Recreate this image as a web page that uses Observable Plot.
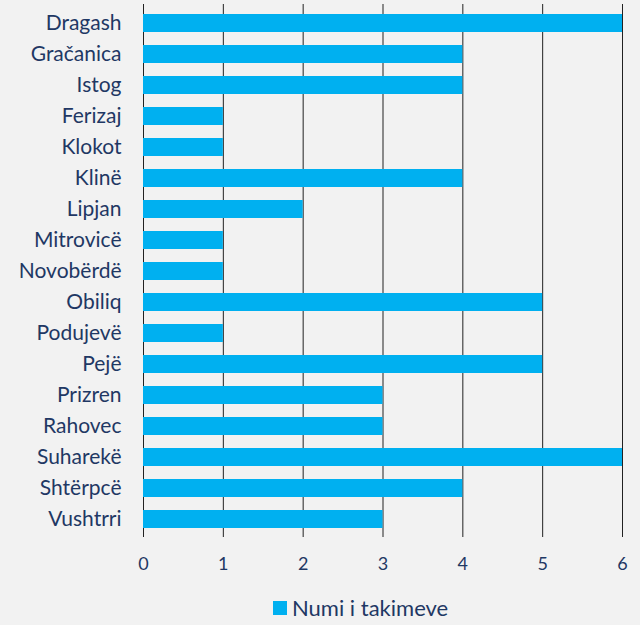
<!DOCTYPE html>
<html>
<head>
<meta charset="utf-8">
<script src="https://cdn.jsdelivr.net/npm/d3@7"></script>
<script src="https://cdn.jsdelivr.net/npm/@observablehq/plot@0.6"></script>
<style>
  html, body { margin: 0; padding: 0; background: #F2F2F2; }
  #chart { width: 640px; height: 625px; position: relative; background: #F2F2F2; font-family: Lato, "Open Sans", sans-serif; }
  #legend { position: absolute; left: 273px; top: 594px; display: flex; align-items: center; color: #1F3864; font-size: 22px; }
  #legend .sw { width: 14px; height: 14px; background: #00B0F0; margin-right: 5px; }
</style>
</head>
<body>
<div id="chart"></div>
<script>
const municipalities = ["Dragash","Gračanica","Istog","Ferizaj","Klokot","Klinë","Lipjan","Mitrovicë","Novobërdë","Obiliq","Podujevë","Pejë","Prizren","Rahovec","Suharekë","Shtërpcë","Vushtrri"];
const meetings = [6,4,4,1,1,4,2,1,1,5,1,5,3,3,6,4,3];
const xTicks = [0,1,2,3,4,5,6];
const seriesName = "Numi i takimeve";

const data = municipalities.map((m, i) => ({name: m, value: meetings[i]}));

const plot = Plot.plot({
  width: 640,
  height: 585,
  marginLeft: 143,
  marginRight: 18,
  marginTop: 4,
  marginBottom: 48,
  style: {background: "#F2F2F2", fontFamily: "Lato, 'Open Sans', sans-serif", color: "#1F3864"},
  x: {domain: [0, 6], ticks: xTicks},
  y: {domain: municipalities, paddingInner: 0.43, paddingOuter: 0.215},
  marks: [
    Plot.gridX(xTicks, {stroke: "#222", strokeOpacity: 1, strokeWidth: 1}),
    Plot.barX(data, {x: "value", y: "name", fill: "#00B0F0"}),
    Plot.axisX({ticks: xTicks, tickFormat: "d", tickSize: 0, tickPadding: 20, fontSize: 18, fill: "#1F3864", label: null}),
    Plot.axisY({tickSize: 0, tickPadding: 22, fontSize: 21, fill: "#1F3864", label: null})
  ]
});
document.getElementById("chart").appendChild(plot);

const legend = document.createElement("div");
legend.id = "legend";
legend.innerHTML = `<div class="sw"></div><span>${seriesName}</span>`;
document.getElementById("chart").appendChild(legend);
</script>
</body>
</html>
